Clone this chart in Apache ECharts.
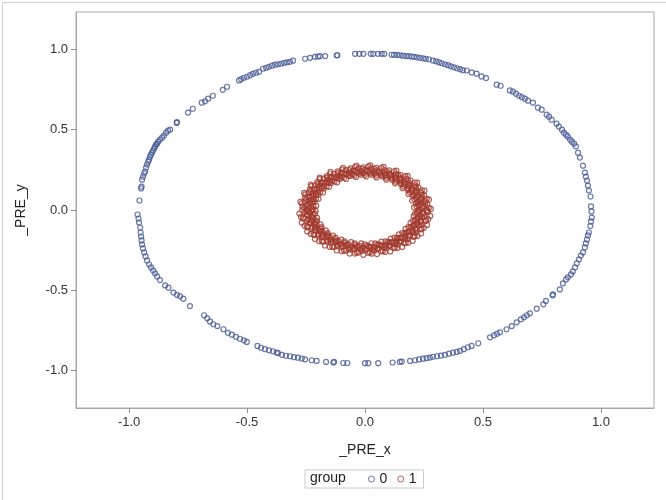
<html>
<head>
  <meta charset="utf-8">
  <title>scatter</title>
</head>
<body style="margin:0;">
<div id="main" style="width:666px;height:500px;"></div>
<script src="https://cdn.jsdelivr.net/npm/echarts@6/dist/echarts.min.js"></script>
<script>
  // legend groups
  var groups = ['0', '1'];
  var groupColors = ['#445694', '#A23A2E'];

  // tick positions for both axes
  var xTicks = [-1.0, -0.5, 0.0, 0.5, 1.0];
  var yTicks = [-1.0, -0.5, 0.0, 0.5, 1.0];

  // group 0 : outer ring
  var group0 = [
    [-0.956,0.059],[-0.949,0.134],[-0.947,0.146],[-0.945,0.189],[-0.941,0.207],[-0.936,0.227],[-0.932,0.239],
    [-0.928,0.264],[-0.924,0.283],[-0.919,0.301],[-0.915,0.314],[-0.911,0.332],[-0.907,0.345],[-0.903,0.357],
    [-0.898,0.37],[-0.894,0.382],[-0.89,0.394],[-0.886,0.407],[-0.881,0.413],[-0.877,0.425],[-0.869,0.438],
    [-0.86,0.45],[-0.852,0.463],[-0.843,0.481],[-0.835,0.494],[-0.826,0.5],[-0.798,0.542],[-0.797,0.547],
    [-0.75,0.606],[-0.73,0.63],[-0.692,0.668],[-0.678,0.676],[-0.665,0.693],[-0.645,0.711],[-0.603,0.748],
    [-0.585,0.767],[-0.534,0.806],[-0.525,0.814],[-0.513,0.823],[-0.5,0.829],[-0.487,0.839],[-0.475,0.848],
    [-0.462,0.854],[-0.449,0.86],[-0.432,0.879],[-0.419,0.885],[-0.407,0.891],[-0.394,0.898],[-0.381,0.904],
    [-0.369,0.907],[-0.356,0.91],[-0.343,0.916],[-0.331,0.919],[-0.318,0.922],[-0.305,0.929],[-0.254,0.941],
    [-0.233,0.947],[-0.212,0.953],[-0.199,0.955],[-0.191,0.957],[-0.169,0.958],[-0.12,0.963],[-0.117,0.963],
    [-0.042,0.972],[-0.024,0.972],[-0.007,0.972],
    [0.024,0.972],[0.035,0.972],[0.055,0.972],[0.071,0.972],[0.082,0.972],[0.113,0.966],[0.123,0.966],
    [0.136,0.965],[0.148,0.963],[0.161,0.96],[0.174,0.958],[0.186,0.957],[0.198,0.955],[0.208,0.953],
    [0.22,0.95],[0.233,0.947],[0.246,0.944],[0.258,0.941],[0.271,0.938],[0.288,0.93],[0.301,0.925],
    [0.314,0.919],[0.326,0.913],[0.339,0.907],[0.352,0.901],[0.364,0.894],[0.377,0.888],[0.39,0.882],
    [0.403,0.876],[0.415,0.87],[0.431,0.868],[0.452,0.856],[0.473,0.848],[0.494,0.831],[0.513,0.821],
    [0.558,0.78],[0.575,0.773],[0.614,0.744],[0.627,0.736],[0.64,0.724],[0.653,0.711],[0.665,0.702],
    [0.678,0.693],[0.691,0.68],[0.712,0.668],[0.733,0.637],[0.749,0.624],[0.77,0.593],[0.78,0.581],
    [0.791,0.562],[0.812,0.537],[0.822,0.519],[0.835,0.5],[0.843,0.481],[0.852,0.469],[0.86,0.457],
    [0.869,0.438],[0.877,0.425],[0.886,0.413],[0.894,0.396],[0.903,0.357],[0.911,0.326],[0.924,0.276],
    [0.932,0.233],[0.936,0.208],[0.941,0.183],[0.945,0.152],[0.949,0.121],[0.956,0.084],[0.958,0.022],
    [0.96,-0.009],[0.961,-0.047],
    [0.958,-0.071],[0.955,-0.1],[0.949,-0.14],[0.945,-0.158],[0.941,-0.183],[0.936,-0.208],[0.932,-0.233],
    [0.924,-0.264],[0.915,-0.283],[0.907,-0.307],[0.898,-0.332],[0.89,-0.357],[0.881,-0.382],[0.873,-0.401],
    [0.86,-0.419],[0.852,-0.432],[0.839,-0.457],[0.826,-0.494],[0.797,-0.525],[0.795,-0.531],[0.767,-0.566],
    [0.756,-0.587],[0.728,-0.614],[0.699,-0.643],[0.686,-0.655],[0.674,-0.668],[0.661,-0.68],[0.643,-0.699],
    [0.622,-0.722],[0.6,-0.742],[0.572,-0.761],[0.559,-0.77],[0.547,-0.78],[0.53,-0.792],[0.48,-0.829],
    [0.452,-0.846],[0.436,-0.854],[0.419,-0.866],[0.403,-0.877],[0.389,-0.883],[0.373,-0.888],[0.356,-0.894],
    [0.339,-0.901],[0.322,-0.906],[0.305,-0.91],[0.288,-0.913],[0.275,-0.918],[0.261,-0.922],[0.246,-0.925],
    [0.229,-0.93],[0.212,-0.935],[0.191,-0.939],[0.156,-0.943],[0.148,-0.945],[0.117,-0.949],[0.056,-0.953],
    [0.014,-0.953],[0.0,-0.953],[-0.075,-0.952],[-0.092,-0.952],[-0.134,-0.949],
    [-0.131,-0.945],[-0.165,-0.945],[-0.205,-0.939],[-0.226,-0.935],[-0.254,-0.929],[-0.268,-0.924],
    [-0.284,-0.919],[-0.301,-0.916],[-0.318,-0.91],[-0.335,-0.907],[-0.352,-0.901],[-0.369,-0.891],
    [-0.374,-0.887],[-0.39,-0.879],[-0.407,-0.873],[-0.424,-0.866],[-0.441,-0.857],[-0.456,-0.846],
    [-0.501,-0.821],[-0.513,-0.811],[-0.53,-0.801],[-0.547,-0.789],[-0.564,-0.776],[-0.581,-0.764],
    [-0.6,-0.742],[-0.626,-0.722],[-0.643,-0.711],[-0.657,-0.693],[-0.669,-0.674],[-0.682,-0.655],
    [-0.742,-0.598],[-0.77,-0.552],[-0.784,-0.537],[-0.797,-0.528],[-0.812,-0.514],[-0.833,-0.483],
    [-0.847,-0.469],[-0.869,-0.436],[-0.881,-0.413],[-0.89,-0.394],[-0.898,-0.376],[-0.907,-0.357],
    [-0.915,-0.339],[-0.924,-0.314],[-0.93,-0.289],[-0.936,-0.264],[-0.941,-0.239],[-0.945,-0.214],
    [-0.947,-0.189],[-0.949,-0.165],[-0.951,-0.14],[-0.953,-0.109],[-0.958,-0.078],[-0.96,-0.053],
    [-0.964,-0.028]
  ];

  // group 1 : inner ring (dense band)
  var group1 = [
    [0.228,0.000],[0.262,0.000],[0.242,0.013],[0.271,0.014],[0.218,0.023],[0.250,0.026],[0.232,0.037],[0.255,0.040],
    [0.223,0.047],[0.256,0.054],[0.234,0.063],[0.262,0.070],[0.208,0.068],[0.239,0.078],[0.219,0.084],[0.241,0.092],
    [0.208,0.093],[0.239,0.107],[0.216,0.110],[0.241,0.123],[0.190,0.110],[0.217,0.126],[0.197,0.128],[0.216,0.141],
    [0.184,0.134],[0.212,0.154],[0.188,0.152],[0.211,0.171],[0.163,0.147],[0.187,0.168],[0.166,0.166],[0.182,0.182],
    [0.153,0.169],[0.175,0.195],[0.152,0.188],[0.171,0.211],[0.129,0.177],[0.148,0.203],[0.128,0.197],[0.141,0.216],
    [0.114,0.197],[0.131,0.227],[0.110,0.216],[0.123,0.241],[0.089,0.200],[0.102,0.229],[0.084,0.219],[0.092,0.241],
    [0.070,0.217],[0.081,0.249],[0.063,0.234],[0.070,0.262],[0.046,0.214],[0.052,0.246],[0.037,0.232],[0.040,0.255],
    [0.024,0.227],[0.027,0.261],[0.013,0.242],[0.014,0.271],
    [0.000,0.219],[0.000,0.251],[-0.012,0.235],[-0.013,0.258],[-0.024,0.227],[-0.027,0.261],[-0.038,0.239],[-0.042,0.268],
    [-0.046,0.214],[-0.052,0.246],[-0.061,0.227],[-0.067,0.249],[-0.070,0.217],[-0.081,0.249],[-0.087,0.226],[-0.097,0.253],
    [-0.089,0.200],[-0.102,0.229],[-0.107,0.209],[-0.117,0.230],[-0.114,0.197],[-0.131,0.227],[-0.132,0.203],[-0.148,0.227],
    [-0.129,0.177],[-0.148,0.203],[-0.148,0.183],[-0.162,0.200],[-0.153,0.169],[-0.175,0.195],[-0.171,0.171],[-0.192,0.192],
    [-0.163,0.147],[-0.187,0.168],[-0.183,0.148],[-0.200,0.162],[-0.184,0.134],[-0.212,0.154],[-0.203,0.132],[-0.227,0.148],
    [-0.190,0.110],[-0.217,0.126],[-0.209,0.107],[-0.230,0.117],[-0.208,0.093],[-0.239,0.107],[-0.226,0.087],[-0.253,0.097],
    [-0.208,0.068],[-0.239,0.078],[-0.227,0.061],[-0.249,0.067],[-0.223,0.047],[-0.256,0.054],[-0.239,0.038],[-0.268,0.042],
    [-0.218,0.023],[-0.250,0.026],[-0.235,0.012],[-0.258,0.013],
    [-0.224,0.000],[-0.266,0.000],[-0.238,-0.012],[-0.255,-0.013],[-0.212,-0.022],[-0.246,-0.026],[-0.228,-0.036],[-0.271,-0.043],
    [-0.219,-0.047],[-0.260,-0.055],[-0.230,-0.062],[-0.246,-0.066],[-0.203,-0.066],[-0.235,-0.076],[-0.216,-0.083],[-0.256,-0.098],
    [-0.205,-0.091],[-0.243,-0.108],[-0.212,-0.108],[-0.227,-0.116],[-0.184,-0.107],[-0.214,-0.124],[-0.194,-0.126],[-0.230,-0.149],
    [-0.181,-0.132],[-0.215,-0.156],[-0.185,-0.150],[-0.198,-0.160],[-0.158,-0.143],[-0.184,-0.165],[-0.163,-0.163],[-0.194,-0.194],
    [-0.150,-0.166],[-0.178,-0.198],[-0.150,-0.185],[-0.160,-0.198],[-0.125,-0.172],[-0.145,-0.200],[-0.126,-0.194],[-0.149,-0.230],
    [-0.112,-0.194],[-0.133,-0.230],[-0.108,-0.212],[-0.116,-0.227],[-0.087,-0.195],[-0.100,-0.226],[-0.083,-0.216],[-0.098,-0.256],
    [-0.069,-0.213],[-0.082,-0.253],[-0.062,-0.230],[-0.066,-0.246],[-0.044,-0.208],[-0.051,-0.242],[-0.036,-0.228],[-0.043,-0.271],
    [-0.023,-0.223],[-0.028,-0.265],[-0.012,-0.238],[-0.013,-0.255],
    [0.000,-0.213],[0.000,-0.247],[0.012,-0.224],[0.014,-0.266],[0.024,-0.230],[0.029,-0.272],[0.037,-0.235],[0.040,-0.252],
    [0.044,-0.208],[0.051,-0.242],[0.058,-0.216],[0.069,-0.257],[0.071,-0.220],[0.085,-0.261],[0.085,-0.222],[0.091,-0.238],
    [0.087,-0.195],[0.100,-0.226],[0.102,-0.200],[0.121,-0.237],[0.116,-0.200],[0.137,-0.237],[0.130,-0.200],[0.139,-0.214],
    [0.125,-0.172],[0.145,-0.200],[0.141,-0.174],[0.167,-0.207],[0.155,-0.172],[0.183,-0.204],[0.168,-0.168],[0.180,-0.180],
    [0.158,-0.143],[0.184,-0.165],[0.174,-0.141],[0.207,-0.167],[0.187,-0.136],[0.222,-0.161],[0.200,-0.130],[0.214,-0.139],
    [0.184,-0.107],[0.214,-0.124],[0.200,-0.102],[0.237,-0.121],[0.211,-0.094],[0.250,-0.111],[0.222,-0.085],[0.238,-0.091],
    [0.203,-0.066],[0.235,-0.076],[0.216,-0.058],[0.257,-0.069],[0.226,-0.048],[0.268,-0.057],[0.235,-0.037],[0.252,-0.040],
    [0.212,-0.022],[0.246,-0.026],[0.224,-0.012],[0.266,-0.014],
    // second pass of the band
    [0.236,0.006],[0.279,0.007],[0.208,0.016],[0.246,0.019],[0.227,0.030],[0.264,0.035],[0.240,0.044],[0.217,0.040],
    [0.229,0.055],[0.271,0.065],[0.200,0.059],[0.237,0.070],[0.216,0.076],[0.251,0.089],[0.225,0.093],[0.204,0.085],
    [0.213,0.102],[0.252,0.120],[0.184,0.100],[0.217,0.118],[0.195,0.120],[0.227,0.139],[0.201,0.138],[0.182,0.125],
    [0.187,0.144],[0.221,0.170],[0.159,0.136],[0.188,0.160],[0.166,0.158],[0.193,0.183],[0.168,0.177],[0.152,0.160],
    [0.153,0.179],[0.181,0.212],[0.127,0.166],[0.150,0.196],[0.130,0.189],[0.151,0.219],[0.127,0.208],[0.115,0.188],
    [0.113,0.207],[0.133,0.245],[0.090,0.189],[0.106,0.223],[0.088,0.212],[0.102,0.246],[0.081,0.230],[0.074,0.208],
    [0.067,0.226],[0.079,0.268],[0.049,0.203],[0.058,0.240],[0.042,0.225],[0.048,0.262],[0.032,0.242],[0.029,0.219],
    [0.019,0.235],[0.022,0.278],[0.005,0.209],[0.006,0.247],
    [-0.006,0.229],[-0.007,0.266],[-0.019,0.243],[-0.017,0.220],[-0.031,0.234],[-0.036,0.277],[-0.038,0.206],[-0.045,0.243],
    [-0.053,0.223],[-0.062,0.259],[-0.069,0.234],[-0.063,0.212],[-0.079,0.222],[-0.093,0.263],[-0.080,0.193],[-0.095,0.228],
    [-0.099,0.207],[-0.115,0.240],[-0.116,0.214],[-0.105,0.194],[-0.123,0.201],[-0.146,0.238],[-0.118,0.172],[-0.140,0.204],
    [-0.139,0.182],[-0.162,0.211],[-0.158,0.186],[-0.144,0.168],[-0.162,0.171],[-0.192,0.202],[-0.152,0.144],[-0.179,0.170],
    [-0.174,0.149],[-0.202,0.173],[-0.194,0.149],[-0.175,0.135],[-0.194,0.134],[-0.230,0.158],[-0.178,0.109],[-0.211,0.129],
    [-0.201,0.109],[-0.234,0.127],[-0.220,0.105],[-0.199,0.095],[-0.218,0.090],[-0.258,0.107],[-0.197,0.070],[-0.233,0.082],
    [-0.220,0.065],[-0.255,0.076],[-0.237,0.057],[-0.215,0.052],[-0.232,0.043],[-0.274,0.051],[-0.207,0.027],[-0.245,0.032],
    [-0.228,0.018],[-0.265,0.021],[-0.244,0.006],[-0.221,0.006],
    [-0.209,-0.005],[-0.247,-0.006],[-0.235,-0.019],[-0.278,-0.022],[-0.242,-0.032],[-0.219,-0.029],[-0.225,-0.042],[-0.262,-0.048],
    [-0.203,-0.049],[-0.240,-0.058],[-0.226,-0.067],[-0.268,-0.079],[-0.230,-0.081],[-0.208,-0.074],[-0.212,-0.088],[-0.246,-0.102],
    [-0.189,-0.090],[-0.223,-0.106],[-0.207,-0.113],[-0.245,-0.133],[-0.208,-0.127],[-0.188,-0.115],[-0.189,-0.130],[-0.219,-0.151],
    [-0.166,-0.127],[-0.196,-0.150],[-0.179,-0.153],[-0.212,-0.181],[-0.177,-0.168],[-0.160,-0.152],[-0.158,-0.166],[-0.183,-0.193],
    [-0.136,-0.159],[-0.160,-0.188],[-0.144,-0.187],[-0.170,-0.221],[-0.138,-0.201],[-0.125,-0.182],[-0.120,-0.195],[-0.139,-0.227],
    [-0.100,-0.184],[-0.118,-0.217],[-0.102,-0.213],[-0.120,-0.252],[-0.093,-0.225],[-0.085,-0.204],[-0.076,-0.216],[-0.089,-0.251],
    [-0.059,-0.200],[-0.070,-0.237],[-0.055,-0.229],[-0.065,-0.271],[-0.044,-0.240],[-0.040,-0.217],[-0.030,-0.227],[-0.035,-0.264],
    [-0.016,-0.208],[-0.019,-0.246],[-0.006,-0.236],[-0.007,-0.279],
    [0.006,-0.244],[0.006,-0.221],[0.018,-0.228],[0.021,-0.265],[0.027,-0.207],[0.032,-0.245],[0.043,-0.232],[0.051,-0.274],
    [0.057,-0.237],[0.052,-0.215],[0.065,-0.220],[0.076,-0.255],[0.070,-0.197],[0.082,-0.233],[0.090,-0.218],[0.107,-0.258],
    [0.105,-0.220],[0.095,-0.199],[0.109,-0.201],[0.127,-0.234],[0.109,-0.178],[0.129,-0.211],[0.134,-0.194],[0.158,-0.230],
    [0.149,-0.194],[0.135,-0.175],[0.149,-0.174],[0.173,-0.202],[0.144,-0.152],[0.170,-0.179],[0.171,-0.162],[0.202,-0.192],
    [0.186,-0.158],[0.168,-0.144],[0.182,-0.139],[0.211,-0.162],[0.172,-0.118],[0.204,-0.140],[0.201,-0.123],[0.238,-0.146],
    [0.214,-0.116],[0.194,-0.105],[0.207,-0.099],[0.240,-0.115],[0.193,-0.080],[0.228,-0.095],[0.222,-0.079],[0.263,-0.093],
    [0.234,-0.069],[0.212,-0.063],[0.223,-0.053],[0.259,-0.062],[0.206,-0.038],[0.243,-0.045],[0.234,-0.031],[0.277,-0.036],
    [0.243,-0.019],[0.220,-0.017],[0.229,-0.006],[0.266,-0.007]
  ];

  var myChart = echarts.init(document.getElementById('main'));

  function pointSeries(name, data, color) {
    return {
      name: name,
      type: 'scatter',
      data: data,
      symbol: 'circle',
      symbolSize: 5,
      itemStyle: { color: 'rgba(0,0,0,0)', borderColor: color, borderWidth: 1.2 },
      emphasis: { disabled: true }
    };
  }

  function axisCommon(ticks) {
    return {
      nameLocation: 'middle',
      nameTextStyle: { fontSize: 14, color: '#222' },
      axisLine: { show: true, onZero: false, lineStyle: { color: '#a8a8a8' } },
      axisTick: { show: true, inside: false, length: 5, lineStyle: { color: '#909090' }, customValues: ticks },
      axisLabel: { fontSize: 13, color: '#333', margin: 8, customValues: ticks,
        formatter: function (v) { return v.toFixed(1); } },
      splitLine: { show: false }
    };
  }

  var xAxisOpt = axisCommon(xTicks);
  xAxisOpt.type = 'value';
  xAxisOpt.min = -1.225;
  xAxisOpt.max = 1.225;
  xAxisOpt.name = '_PRE_x';
  xAxisOpt.nameGap = 35;

  var yAxisOpt = axisCommon(yTicks);
  yAxisOpt.type = 'value';
  yAxisOpt.min = -1.232;
  yAxisOpt.max = 1.232;
  yAxisOpt.name = '_PRE_y';
  yAxisOpt.nameGap = 48;

  myChart.setOption({
    animation: false,
    textStyle: { fontFamily: 'Liberation Sans' },
    grid: { left: 76, right: 12, top: 12, bottom: 92, show: true, borderColor: '#a8a8a8', borderWidth: 1 },
    xAxis: xAxisOpt,
    yAxis: yAxisOpt,
    legend: {
      left: 305, top: 470,
      padding: [2, 7, 2, 63],
      borderColor: '#c8c8c8', borderWidth: 1,
      icon: 'circle', itemWidth: 6, itemHeight: 6, itemGap: 10,
      textStyle: { fontSize: 14, color: '#222' },
      data: groups.map(function (g, i) {
        return { name: g, itemStyle: { color: '#fff', borderColor: groupColors[i], borderWidth: 1 } };
      })
    },
    graphic: [
      { type: 'rect', left: 0, top: 0, shape: { width: 665, height: 499 },
        style: { fill: 'none', stroke: '#d0d0d0', lineWidth: 1 }, silent: true },
      { type: 'text', left: 310, top: 471,
        style: { text: 'group', font: '14px "Liberation Sans"', fill: '#222' } }
    ],
    series: [
      pointSeries(groups[0], group0, groupColors[0]),
      pointSeries(groups[1], group1, groupColors[1])
    ]
  });
</script>
</body>
</html>
